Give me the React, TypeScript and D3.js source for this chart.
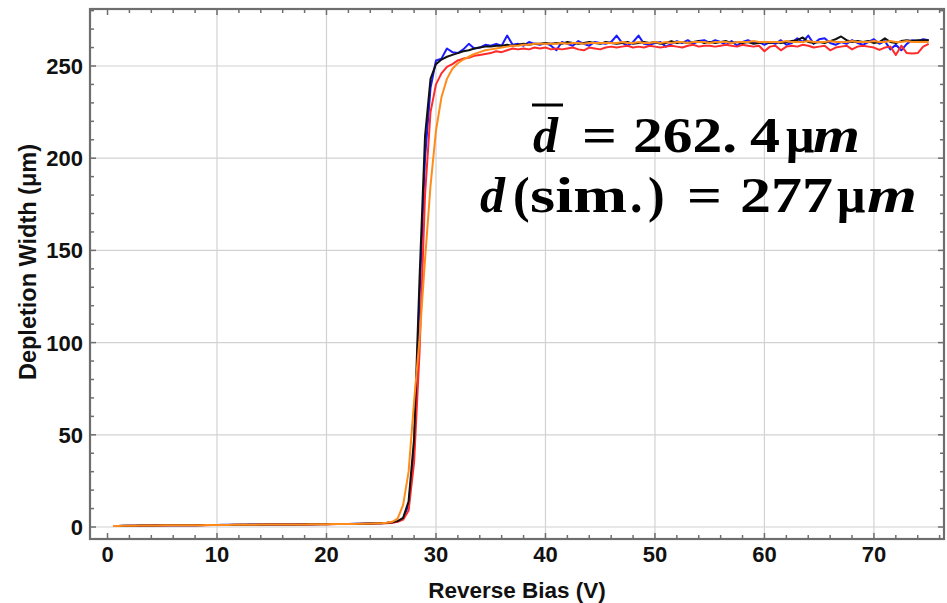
import React from 'react';
import * as d3 from 'd3';

// Reverse bias voltages (V), shared by all four series
const biasV = [
  0.5, 1, 1.5, 2, 2.5, 3, 3.5, 4, 4.5, 5,
  5.5, 6, 6.5, 7, 7.5, 8, 8.5, 9, 9.5, 10,
  10.5, 11, 11.5, 12, 12.5, 13, 13.5, 14, 14.5, 15,
  15.5, 16, 16.5, 17, 17.5, 18, 18.5, 19, 19.5, 20,
  20.5, 21, 21.5, 22, 22.5, 23, 23.5, 24, 24.5, 25,
  25.5, 26, 26.5, 27, 27.5, 28, 28.5, 29, 29.5, 30,
  30.5, 31, 31.5, 32, 32.5, 33, 33.5, 34, 34.5, 35,
  35.5, 36, 36.5, 37, 37.5, 38, 38.5, 39, 39.5, 40,
  40.5, 41, 41.5, 42, 42.5, 43, 43.5, 44, 44.5, 45,
  45.5, 46, 46.5, 47, 47.5, 48, 48.5, 49, 49.5, 50,
  50.5, 51, 51.5, 52, 52.5, 53, 53.5, 54, 54.5, 55,
  55.5, 56, 56.5, 57, 57.5, 58, 58.5, 59, 59.5, 60,
  60.5, 61, 61.5, 62, 62.5, 63, 63.5, 64, 64.5, 65,
  65.5, 66, 66.5, 67, 67.5, 68, 68.5, 69, 69.5, 70,
  70.5, 71, 71.5, 72, 72.5, 73, 73.5, 74, 74.5, 75,
];

// Depletion width (µm) per series
const widthBlue = [
  0.6, 0.6, 0.7, 0.7, 0.7, 0.8, 0.8, 0.8, 0.9, 0.9,
  0.9, 0.9, 1.0, 1.0, 1.0, 1.0, 1.1, 1.1, 1.1, 1.1,
  1.2, 1.2, 1.2, 1.2, 1.2, 1.3, 1.3, 1.3, 1.3, 1.3,
  1.4, 1.4, 1.4, 1.4, 1.5, 1.5, 1.5, 1.5, 1.6, 1.6,
  1.6, 1.7, 1.7, 1.7, 1.8, 1.8, 1.9, 2.0, 2.0, 2.1,
  2.2, 2.5, 3.0, 4.5, 12, 42, 125, 200, 238, 253,
  254, 259.5, 257.5, 257, 259, 262, 259.5, 260, 261.5, 261,
  262, 261, 266.5, 261.5, 262, 261, 263, 262, 261.5, 262.5,
  261, 258.5, 263, 262, 261, 263.5, 262, 261, 263, 262.5,
  262, 263, 266.5, 262.5, 261, 263, 266.5, 262, 261.5, 262.5,
  263, 260.5, 262, 263.5, 262.5, 264, 262, 263.5, 264, 262.5,
  264, 263, 261.5, 263.5, 261, 263, 264, 262.5, 263, 261.5,
  263, 262, 264, 261.5, 262.5, 265, 263, 266.5, 262, 264.5,
  265, 262.5, 261.5, 263, 262, 264, 262.5, 261.5, 263, 264.5,
  262, 263.5, 259, 261.5, 258.5, 262, 264, 263.5, 264.5, 264,
];

const widthRed = [
  0.5, 0.6, 0.6, 0.7, 0.7, 0.7, 0.8, 0.8, 0.8, 0.8,
  0.9, 0.9, 0.9, 0.9, 1.0, 1.0, 1.0, 1.0, 1.1, 1.1,
  1.1, 1.1, 1.1, 1.2, 1.2, 1.2, 1.2, 1.2, 1.3, 1.3,
  1.3, 1.3, 1.3, 1.4, 1.4, 1.4, 1.4, 1.5, 1.5, 1.5,
  1.5, 1.6, 1.6, 1.6, 1.7, 1.7, 1.8, 1.8, 1.9, 2.0,
  2.0, 2.3, 2.8, 4, 9, 35, 95, 180, 225, 240,
  246, 249.5, 251, 253, 254, 254.5, 255.5, 256, 256.5, 257,
  258, 257.5, 258.5, 259.5, 259, 259.5, 259, 260, 259.5, 260,
  259, 259.5, 259, 259.5, 260, 259, 258.5, 260, 259.5, 259,
  260, 260.5, 260, 260.5, 261, 260, 260.5, 260, 261, 260.5,
  260, 260.5, 261, 260.5, 260, 261, 261.5, 260.5, 261, 261,
  260.5, 261, 261.5, 261, 260.5, 261.5, 261, 260.5, 261, 258,
  260.5, 261, 258.5, 260.5, 261, 260.5, 261.5, 261, 260, 260.5,
  261, 258.5, 260, 260.5, 261, 259, 260.5, 261, 260.5, 260,
  258.7, 260, 260.5, 256, 261, 257, 256.8, 257, 260.5, 262,
];

const widthBlack = [
  0.6, 0.6, 0.7, 0.7, 0.7, 0.8, 0.8, 0.8, 0.8, 0.9,
  0.9, 0.9, 0.9, 1.0, 1.0, 1.0, 1.0, 1.1, 1.1, 1.1,
  1.1, 1.1, 1.2, 1.2, 1.2, 1.2, 1.2, 1.3, 1.3, 1.3,
  1.3, 1.3, 1.4, 1.4, 1.4, 1.4, 1.5, 1.5, 1.5, 1.5,
  1.6, 1.6, 1.6, 1.7, 1.7, 1.8, 1.8, 1.9, 2.0, 2.1,
  2.3, 2.6, 3.2, 5, 14, 48, 135, 212, 243, 251,
  253.5, 255, 256, 257, 258, 258.5, 259.5, 260, 260.5, 260.5,
  261, 261, 261.5, 261, 261.5, 262, 261.5, 262, 262, 262.5,
  262, 262.5, 262, 263, 262.5, 262, 262.5, 263, 262.5, 262,
  263, 262.5, 262, 262.5, 263, 262, 262.5, 263, 262.5, 263,
  262, 262.5, 263.5, 262.5, 263, 262.5, 263, 263.5, 262.5, 263,
  262.5, 263, 263.5, 262.5, 263, 262.5, 263, 262, 262.5, 263,
  262.5, 263, 262.5, 263, 263.5, 264, 265.5, 263, 262.5, 263,
  262.5, 263.5, 264.5, 266, 264, 263, 263.5, 263, 263.5, 262.5,
  263, 265, 263, 262.5, 263.5, 264, 263.5, 264, 264, 264,
];

const widthOrange = [
  0.6, 0.6, 0.7, 0.7, 0.7, 0.8, 0.8, 0.8, 0.8, 0.9,
  0.9, 0.9, 0.9, 1.0, 1.0, 1.0, 1.0, 1.1, 1.1, 1.1,
  1.1, 1.1, 1.2, 1.2, 1.2, 1.2, 1.2, 1.3, 1.3, 1.3,
  1.3, 1.3, 1.4, 1.4, 1.4, 1.4, 1.5, 1.5, 1.5, 1.5,
  1.6, 1.6, 1.6, 1.7, 1.7, 1.8, 1.8, 1.9, 2.0, 2.1,
  2.3, 2.8, 4.5, 12, 30, 68, 102, 145, 185, 215,
  233, 243, 248.5, 251.5, 253.5, 255, 256.5, 257.5, 258.5, 259,
  259.5, 260, 260.5, 261, 261, 261.5, 261.5, 262, 262, 262,
  262, 262, 262.5, 262, 262.5, 262.5, 262, 262.5, 262.5, 262.5,
  262.5, 262.5, 262.5, 263, 262.5, 262.5, 263, 262.5, 262.5, 263,
  262.5, 263, 262.5, 263, 263, 262.5, 263, 263, 263, 262.5,
  263, 263, 263, 262.5, 263, 263, 263, 263.5, 263, 263,
  263, 263, 263, 263.5, 263, 263, 263, 263.5, 263, 263,
  263, 263.5, 263, 263, 263, 263.5, 263, 263, 263, 263.5,
  263, 263, 263.5, 263, 263, 263.5, 263, 263, 263, 263,
];

const seriesList = [
  { name: 'blue', color: '#1a1aff', values: widthBlue },
  { name: 'red', color: '#ff2a2a', values: widthRed },
  { name: 'black', color: '#111111', values: widthBlack },
  { name: 'orange', color: '#ff8c1a', values: widthOrange },
];

const xTicks = [0, 10, 20, 30, 40, 50, 60, 70];
const yTicks = [0, 50, 100, 150, 200, 250];
const xMinor = d3.range(0, 77, 2);
const yMinor = d3.range(0, 281, 10);

const W = 947;
const H = 603;
const left = 90, right = 944, top = 9, bottom = 539;

export default function App() {
  const x = d3.scaleLinear().domain([-1.6, 76.4]).range([left, right]);
  const y = d3.scaleLinear().domain([-6.5, 280.9]).range([bottom, top]);
  const line = d3
    .line<number>()
    .x((_, i) => x(biasV[i]))
    .y((d) => y(d));

  const tickFont = "'Liberation Sans', Arial, sans-serif";
  const serif = "'Liberation Serif', 'Times New Roman', serif";
  const frameColor = '#6e6e6e';

  return (
    <svg
      width={W}
      height={H}
      style={{ position: 'absolute', left: 0, top: 0, background: '#fff' }}
    >
      <rect x={0} y={0} width={W} height={H} fill="#fff" />
      {/* grid */}
      {xTicks
        .filter((t) => t > 0)
        .map((t) => (
          <line key={'gx' + t} x1={x(t)} x2={x(t)} y1={top} y2={bottom} stroke="#d2d2d2" strokeWidth={1.2} />
        ))}
      {yTicks.map((t) => (
        <line key={'gy' + t} x1={left} x2={right} y1={y(t)} y2={y(t)} stroke="#d2d2d2" strokeWidth={1.2} />
      ))}

      {/* data */}
      <defs>
        <clipPath id="plotclip">
          <rect x={left} y={top} width={right - left} height={bottom - top} />
        </clipPath>
      </defs>
      <g clipPath="url(#plotclip)">
        {seriesList.map((s) => (
          <path
            key={s.name}
            d={line(s.values) || ''}
            fill="none"
            stroke={s.color}
            strokeWidth={2}
            strokeLinejoin="round"
          />
        ))}
      </g>

      {/* frame ticks */}
      <g stroke={frameColor} strokeWidth={1.5}>
        {xMinor.map((t) => {
          const len = t % 10 === 0 ? 6 : 4;
          return (
            <g key={'xt' + t}>
              <line x1={x(t)} x2={x(t)} y1={bottom} y2={bottom - len} />
              <line x1={x(t)} x2={x(t)} y1={top} y2={top + len} />
            </g>
          );
        })}
        {yMinor.map((t) => {
          const len = t % 50 === 0 ? 6 : 4;
          return (
            <g key={'yt' + t}>
              <line x1={left} x2={left + len} y1={y(t)} y2={y(t)} />
              <line x1={right} x2={right - len} y1={y(t)} y2={y(t)} />
            </g>
          );
        })}
      </g>
      <rect x={left} y={top} width={right - left} height={bottom - top} fill="none" stroke={frameColor} strokeWidth={2.2} />

      {/* tick labels */}
      {xTicks.map((t) => (
        <text key={'xl' + t} x={x(t)} y={562} textAnchor="middle" fontFamily={tickFont} fontWeight="bold" fontSize={22} fill="#111">
          {t}
        </text>
      ))}
      {yTicks.map((t) => (
        <text key={'yl' + t} x={83} y={y(t) + 8} textAnchor="end" fontFamily={tickFont} fontWeight="bold" fontSize={22} fill="#111">
          {t}
        </text>
      ))}

      {/* axis titles */}
      <text x={(left + right) / 2} y={598} textAnchor="middle" fontFamily={tickFont} fontWeight="bold" fontSize={22.5} fill="#111">
        Reverse Bias (V)
      </text>
      <text
        transform={`translate(36, 262) rotate(-90)`}
        textAnchor="middle"
        fontFamily={tickFont}
        fontWeight="bold"
        fontSize={23.5}
        fill="#111"
      >
        Depletion Width (μm)
      </text>

      {/* annotation */}
      <g fontFamily={serif} fontWeight="bold" fontSize={50} fill="#000">
        <line x1={532} x2={563} y1={105} y2={105} stroke="#000" strokeWidth={3} />
        <text x={533} y={152} fontStyle="italic">d</text>
        <text x={582} y={152} textLength={35} lengthAdjust="spacingAndGlyphs">=</text>
        <text x={633} y={152} textLength={104} lengthAdjust="spacingAndGlyphs">262.</text>
        <text x={750} y={152} textLength={30} lengthAdjust="spacingAndGlyphs">4</text>
        <text x={786} y={152}>μ</text>
        <text x={813} y={152} fontStyle="italic" textLength={47} lengthAdjust="spacingAndGlyphs">m</text>

        <text x={480} y={212} fontStyle="italic">d</text>
        <text x={513} y={212}>(</text>
        <text x={530} y={212} textLength={97} lengthAdjust="spacingAndGlyphs">sim</text>
        <text x={630} y={212}>.</text>
        <text x={648} y={212}>)</text>
        <text x={687} y={212} textLength={35} lengthAdjust="spacingAndGlyphs">=</text>
        <text x={740} y={212} textLength={93} lengthAdjust="spacingAndGlyphs">277</text>
        <text x={837} y={212}>μ</text>
        <text x={867} y={212} fontStyle="italic" textLength={50} lengthAdjust="spacingAndGlyphs">m</text>
      </g>
    </svg>
  );
}
